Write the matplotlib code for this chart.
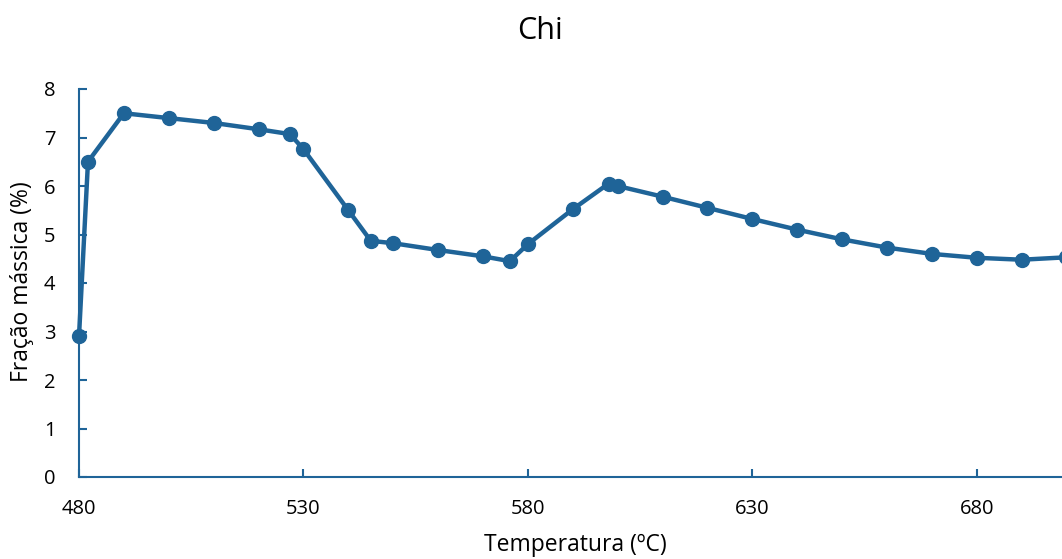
import matplotlib
matplotlib.use("Agg")
import matplotlib.pyplot as plt

temperatura = [480, 482, 490, 500, 510, 520, 527, 530, 540, 545, 550, 560, 570, 576,
               580, 590, 598, 600, 610, 620, 630, 640, 650, 660, 670, 680, 690, 700]
fracao = [2.9, 6.5, 7.5, 7.4, 7.3, 7.17, 7.07, 6.76, 5.5, 4.87, 4.82, 4.68, 4.55, 4.45,
          4.8, 5.52, 6.05, 6.0, 5.78, 5.55, 5.32, 5.1, 4.9, 4.73, 4.6, 4.52, 4.48, 4.53]
x_ticks = [480, 530, 580, 630, 680]
y_ticks = [0, 1, 2, 3, 4, 5, 6, 7, 8]

color = "#1f6498"
plt.rcParams['font.family'] = ['Open Sans', 'DejaVu Sans']

fig = plt.figure(figsize=(10.62, 5.59), dpi=100)
ax = fig.add_axes([79/1062, 1 - 477/559, 983/1062, 388/559])
ax.plot(temperatura, fracao, color=color, lw=3.2, marker='o', markersize=10, clip_on=False)
ax.set_xlim(480, 699)
ax.set_ylim(0, 8)
ax.set_xticks(x_ticks)
ax.set_yticks(y_ticks)
for s in ['top', 'right']:
    ax.spines[s].set_visible(False)
for s in ['left', 'bottom']:
    ax.spines[s].set_color(color)
    ax.spines[s].set_linewidth(1.5)
ax.tick_params(axis='both', direction='in', length=6, width=1.5, color=color,
               labelsize=14.5, labelcolor='black')
ax.tick_params(axis='y', pad=17)
ax.tick_params(axis='x', pad=16)
fig.text(575/1062, 1 - 545/559, 'Temperatura (ºC)', fontsize=16.5, ha='center', va='center')
fig.text(22/1062, 1 - 282/559, 'Fração mássica (%)', fontsize=16.5, ha='center',
         va='center', rotation=90)
fig.text(540/1062, 1 - 31/559, 'Chi', fontsize=22, ha='center', va='center')
fig.savefig('out.png', dpi=100)
